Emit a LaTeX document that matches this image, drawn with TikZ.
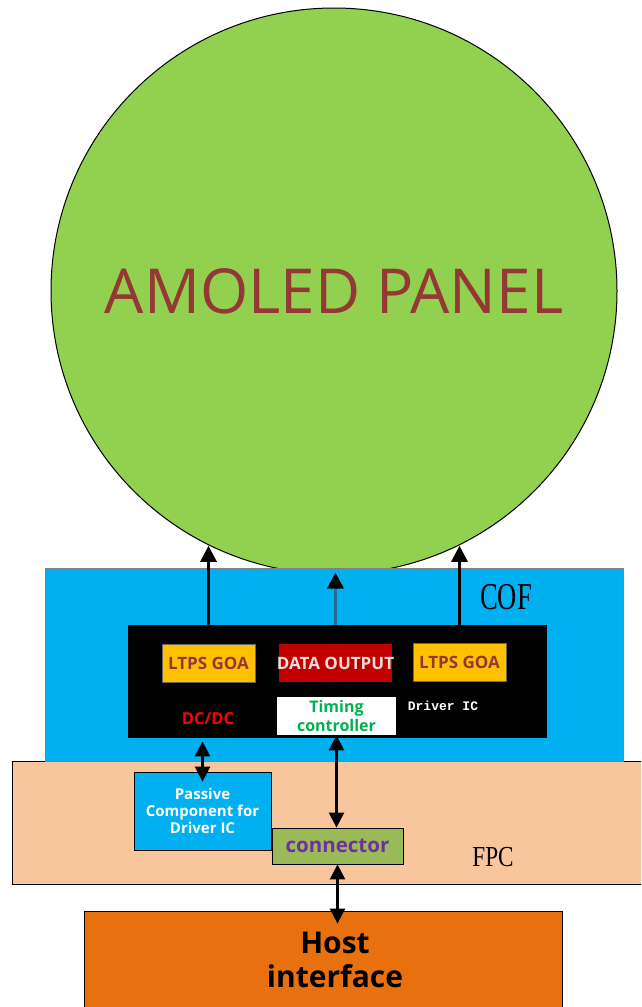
\documentclass[tikz,border=0pt]{standalone}
\usepackage{fontspec}
\setmainfont{Open Sans}
\newfontfamily\serifc{Liberation Serif}
\newfontfamily\monoc{Liberation Mono}
\usetikzlibrary{arrows.meta}

\definecolor{panelgreen}{HTML}{92D050}
\definecolor{panelred}{HTML}{953735}
\definecolor{cofblue}{HTML}{00B0F0}
\definecolor{fpcpeach}{HTML}{F8C69C}
\definecolor{goayellow}{HTML}{FFC000}
\definecolor{datared}{HTML}{C00000}
\definecolor{datapink}{HTML}{F2DCDB}
\definecolor{tcongreen}{HTML}{00B050}
\definecolor{conngreen}{HTML}{9BBB59}
\definecolor{connpurple}{HTML}{7030A0}
\definecolor{hostorange}{HTML}{E8700E}
\definecolor{shaftteal}{HTML}{1F6E8C}

\begin{document}
\begin{tikzpicture}[x=1pt,y=-1pt,
    box/.style={rectangle,inner sep=0pt,draw=black,line width=0.8pt},
    goa/.style={box,fill=goayellow,draw=black!60,line width=0.4pt,minimum width=93pt,minimum height=38pt,
        text=panelred,font=\fontsize{17}{20}\selectfont\bfseries},
    uparrow/.style={line width=3pt,-{Triangle[length=16pt,width=16pt]}},
    dblarrow/.style={line width=2.5pt,{Triangle[length=15pt,width=15pt]}-{Triangle[length=15pt,width=15pt]}}]
\useasboundingbox (0,0) rectangle (641,1007);
\clip (0,0) rectangle (641,1007);

% panel
\node[circle,draw=black,line width=1pt,fill=panelgreen,minimum size=566pt,inner sep=0pt,
    text=panelred,font=\fontsize{62}{70}\selectfont] (panel) at (334,291) {AMOLED PANEL};

% FPC and COF
\node[box,fill=fpcpeach,minimum width=648pt,minimum height=123pt] (fpc) at (336,822.5) {};
\node[box,fill=cofblue,draw=black!50,minimum width=578pt,minimum height=193pt] (cof) at (334,664.5) {};
\node[font=\serifc\fontsize{38}{40}\selectfont] (coflabel) at (506,597) {\scalebox{0.7}[1]{COF}};
\node[font=\serifc\fontsize{29}{32}\selectfont] (fpclabel) at (493,857) {\scalebox{0.8}[1]{FPC}};

% driver IC
\node[box,fill=black,minimum width=418pt,minimum height=112pt] (ic) at (337,681) {};
\node[goa] (goaL) at (208.5,663.5) {LTPS GOA};
\node[goa] (goaR) at (459.5,662) {LTPS GOA};
\node[box,draw=none,fill=datared,minimum width=113pt,minimum height=38pt,
    text=datapink,font=\fontsize{17}{20}\selectfont\bfseries] (dataout) at (335.5,663) {\makebox[0pt]{DATA OUTPUT}};
\node[box,draw=none,fill=white,minimum width=119pt,minimum height=38pt,align=center,
    text=tcongreen,font=\fontsize{16}{19}\selectfont\bfseries] (tcon) at (336.5,716) {Timing\\controller};
\node[text=red,font=\fontsize{16.5}{18}\selectfont\bfseries] (dcdc) at (208,719) {DC/DC};
\node[text=white,font=\monoc\fontsize{13}{16}\selectfont\bfseries] (drvic) at (443,706) {Driver IC};

\draw[uparrow] (goaL |- ic.north) -- (goaL |- panel.-116);
\draw[uparrow] (goaR |- ic.north) -- (goaR |- panel.-64);
\draw[line width=3.5pt,draw=shaftteal,-{Triangle[length=16pt,width=16pt,black]},shorten >=5pt]
    (dataout |- ic.north) -- (dataout |- cof.north);

% FPC parts
\node[box,fill=cofblue,minimum width=137pt,minimum height=78pt,align=center,
    text=white,font=\fontsize{15}{17}\selectfont\bfseries] (passive) at (202.5,811) {Passive\\Component for\\Driver IC};
\node[box,fill=conngreen,minimum width=131pt,minimum height=36pt,
    text=connpurple,font=\fontsize{20.5}{22}\selectfont\bfseries] (conn) at (337.5,846) {connector};

% host
\node[box,fill=hostorange,minimum width=478pt,minimum height=98pt] (host) at (323,960) {};
\node[align=center,font=\fontsize{30}{34}\selectfont\bfseries] (hostlabel) at (335,960) {Host\\interface};

\draw[dblarrow,shorten <=4pt,shorten >=-10pt] (passive.north |- ic.south) -- (passive.north);
\draw[dblarrow] (tcon.south) -- (tcon.south |- conn.north);
\draw[dblarrow,shorten >=-13pt] (conn.south) -- (conn.south |- host.north);
\end{tikzpicture}
\end{document}
